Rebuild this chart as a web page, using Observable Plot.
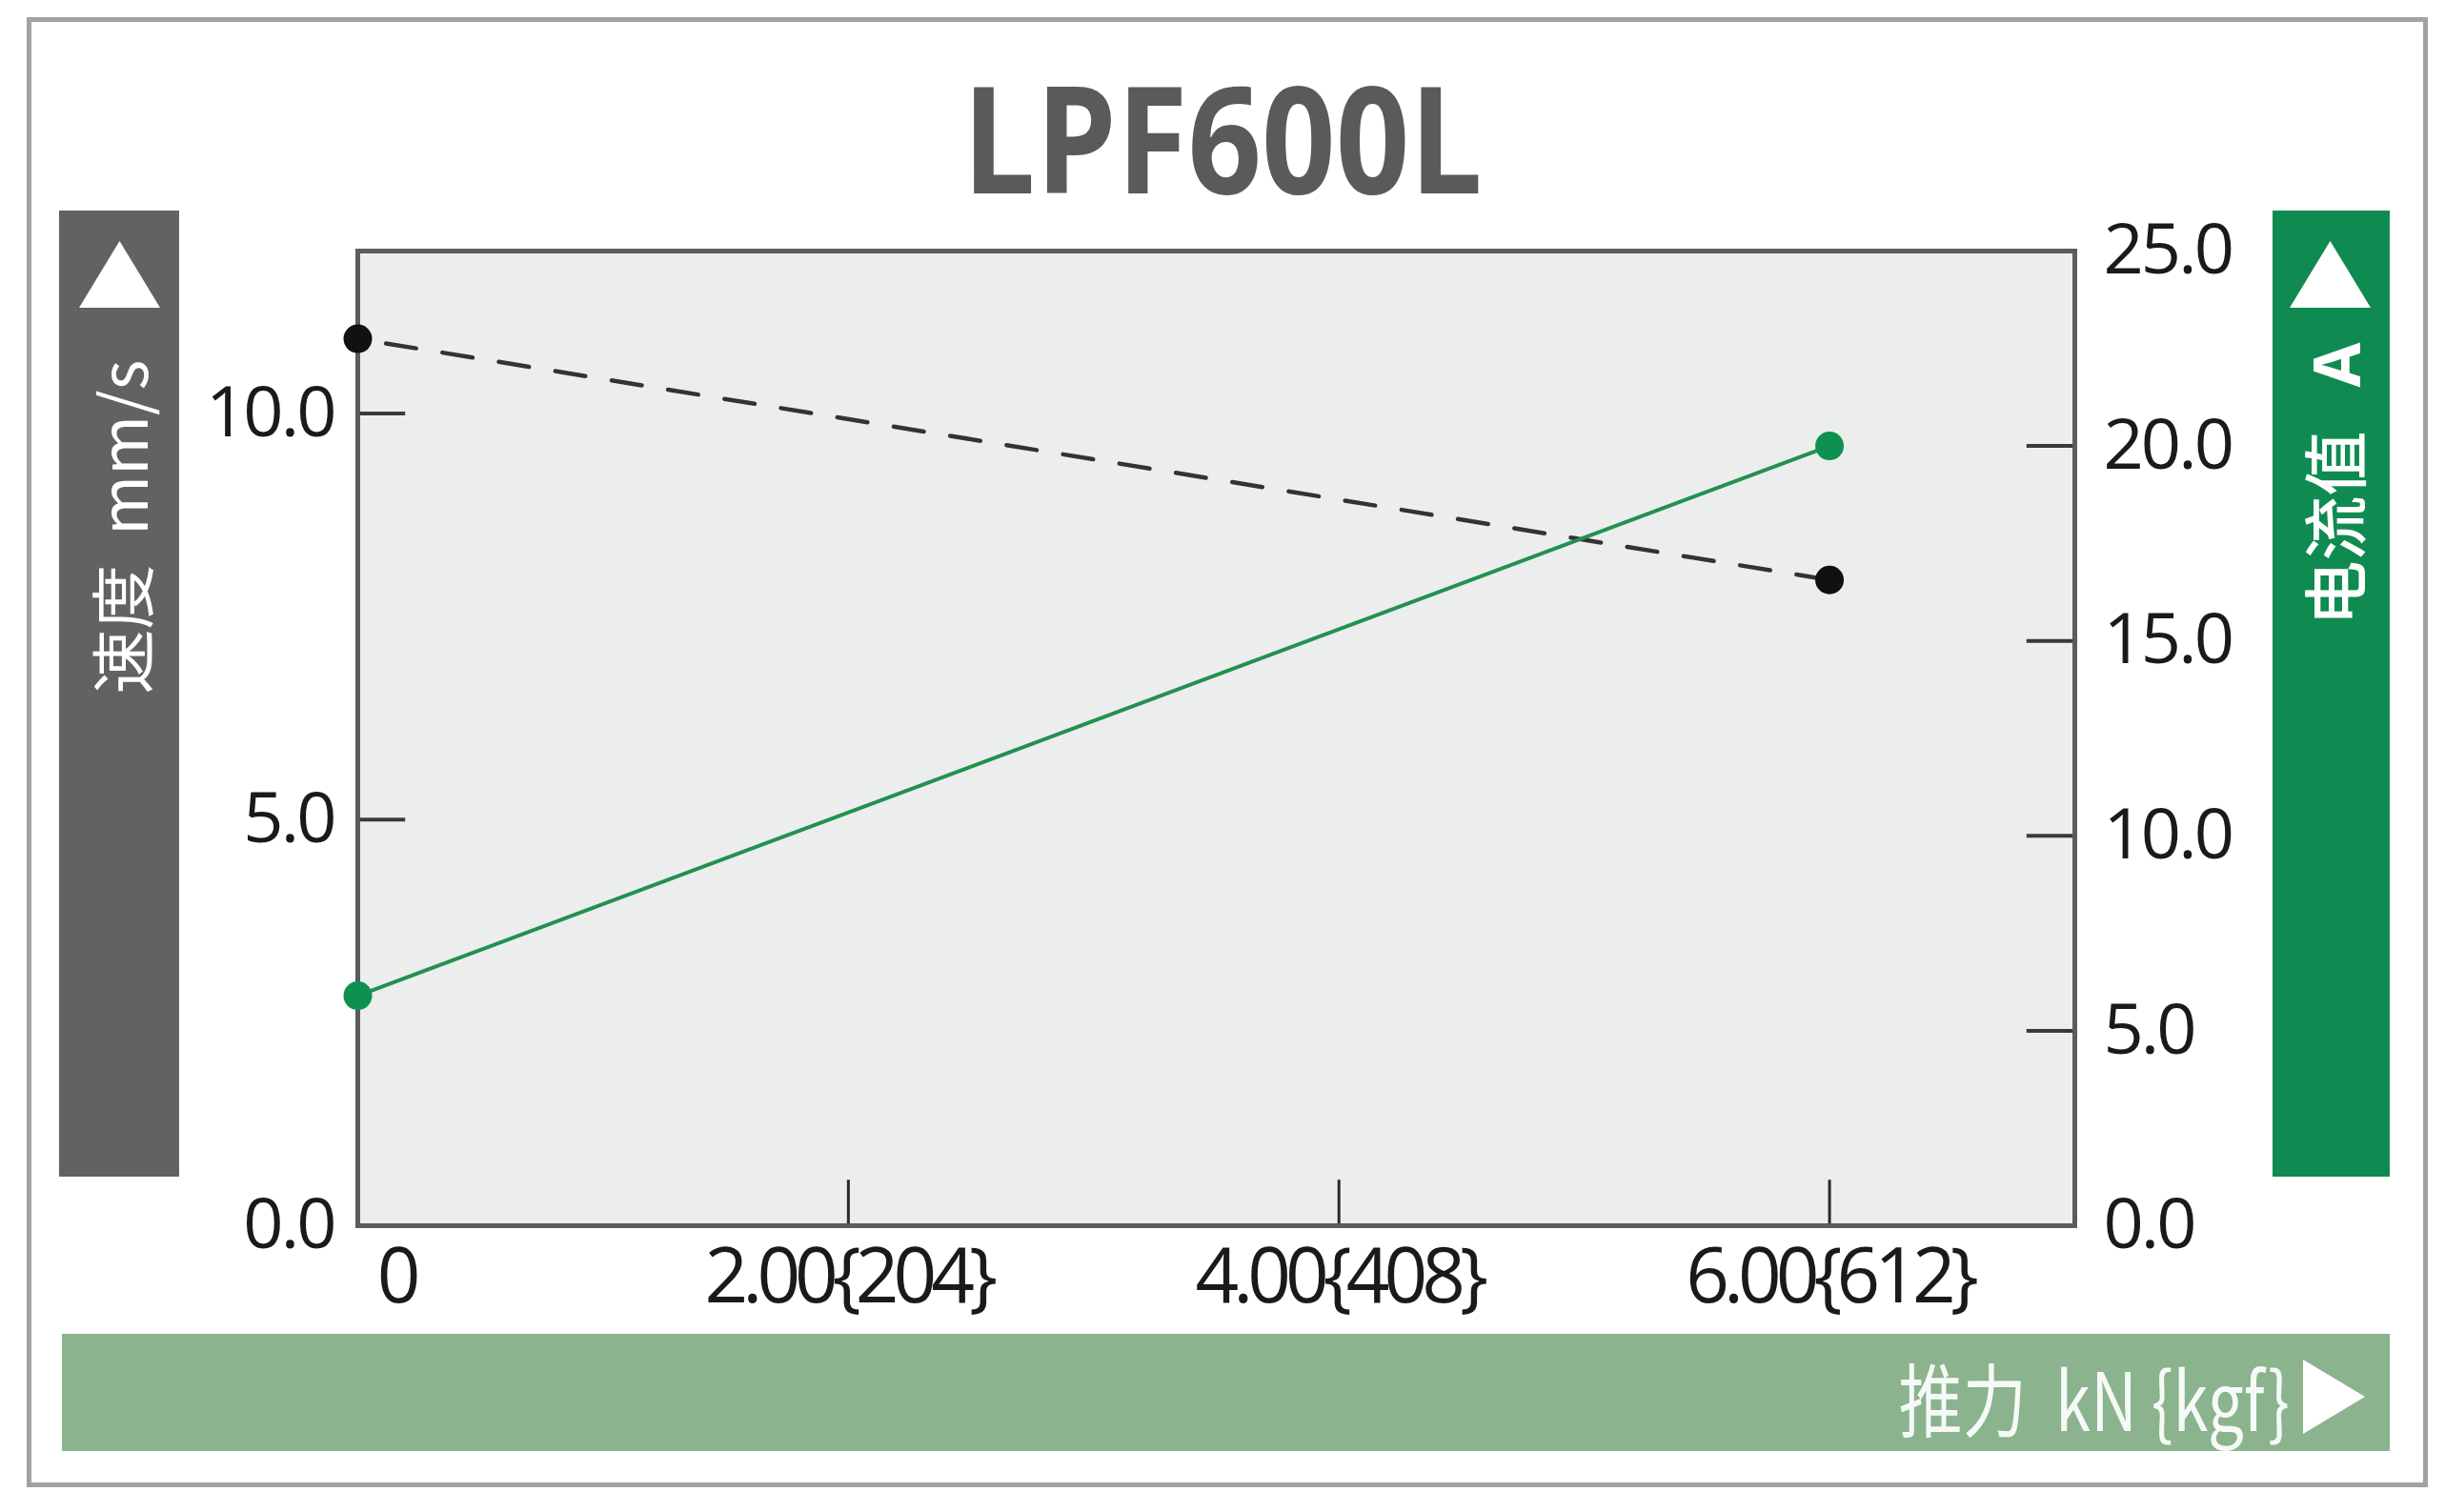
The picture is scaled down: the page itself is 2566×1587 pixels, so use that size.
<!DOCTYPE html>
<html><head><meta charset="utf-8">
<script src="https://cdn.jsdelivr.net/npm/d3@7"></script>
<script src="https://cdn.jsdelivr.net/npm/@observablehq/plot@0.6"></script>
<style>
html,body{margin:0;padding:0;background:#fff;}
#wrap{position:relative;width:2566px;height:1587px;overflow:hidden;font-family:"Open Sans","Noto Sans CJK SC",sans-serif;}
.abs{position:absolute;}
#border{left:28px;top:18px;width:2520px;height:1543px;border:5px solid #a2a2a2;box-sizing:border-box;}
#title{left:1283px;top:143px;transform:translate(-50%,-50%) scaleX(0.87);font-weight:700;font-size:156px;color:#5a5a5a;white-space:nowrap;line-height:1;}
#lband{left:62px;top:221px;width:126px;height:1014px;background:#626262;}
#rband{left:2385px;top:221px;width:123px;height:1014px;background:#0f8b51;}
#bband{left:65px;top:1400px;width:2443px;height:123px;background:#8ab38e;}
.triup{width:85px;height:70px;background:#fff;clip-path:polygon(50% 0,100% 100%,0 100%);}
.trir{width:65px;height:78px;background:#fff;clip-path:polygon(0 0,100% 50%,0 100%);}
.vtext{transform:translate(-50%,-50%) rotate(-90deg);white-space:pre;line-height:1;color:#fff;}
#ltext{left:126px;top:553px;font-size:68px;font-family:"Noto Sans CJK JP","Noto Sans",sans-serif;}
#rtext{left:2449px;top:508px;font-size:68px;font-weight:500;font-family:"Noto Sans CJK SC","Noto Sans",sans-serif;}
#rtext b{font-weight:700;font-family:"Noto Sans",sans-serif;}
#btext{right:163px;top:1466px;transform:translateY(-50%) scaleX(0.8);transform-origin:right center;font-size:84px;color:#f6faf6;white-space:pre;line-height:1;font-family:"Noto Sans CJK SC","Noto Sans",sans-serif;}
#chart{left:0;top:0;}
#chart svg text{letter-spacing:-0.04em;}
#chart g[aria-label="x-axis tick label"] text{letter-spacing:-0.075em;}
</style>
</head><body>
<div id="wrap">
  <div id="border" class="abs"></div>
  <div id="title" class="abs">LPF600L</div>
  <div id="lband" class="abs"></div>
  <div class="abs triup" style="left:83px;top:253px;"></div>
  <div id="ltext" class="abs vtext">速度  mm/s</div>
  <div id="rband" class="abs"></div>
  <div class="abs triup" style="left:2403px;top:253px;"></div>
  <div id="rtext" class="abs vtext">电流值   <b>A</b></div>
  <div id="bband" class="abs"></div>
  <div id="btext" class="abs">推力  kN {kgf}</div>
  <div class="abs trir" style="left:2417px;top:1427px;"></div>
  <div id="chart" class="abs"></div>
</div>
<script>
// ---- data ----
const forceKN = [0, 6];
const speedMMs = [10.92, 7.95];
const currentA = [5.9, 20.0];
const speedTicks = [0, 5, 10];
const currentTicks = [0, 5, 10, 15, 20, 25];
const forceTicks = [0, 2, 4, 6];
const forceTickLabels = ["0", "2.00{204}", "4.00{408}", "6.00{612}"];
const speedMax = 12;
const currentMax = 25;
const forceMax = 7;

const K = speedMax / currentMax; // map current (A) onto the speed y scale
const rows = forceKN.map((f, i) => ({force: f, speed: speedMMs[i], current: currentA[i]}));
const fmtForce = d => forceTickLabels[forceTicks.indexOf(d)];

const chart = Plot.plot({
  width: 2566,
  height: 1587,
  marginTop: 263,
  marginRight: 389,
  marginBottom: 301,
  marginLeft: 375,
  style: {background: "transparent", fontFamily: '"Open Sans", sans-serif', color: "#1a1a1a", overflow: "visible"},
  x: {domain: [0, forceMax], axis: null, label: null},
  y: {domain: [0, speedMax], axis: null, label: null},
  marks: [
    Plot.frame({fill: "#eceeed", stroke: "none"}),
    Plot.ruleY(speedTicks.filter(d => d > 0), {x1: 0, x2: 0.195, stroke: "#3a3a3a", strokeWidth: 4}),
    Plot.ruleY(currentTicks.filter(d => d > 0 && d < currentMax), {y: d => d * K, x1: forceMax - 0.195, x2: forceMax, stroke: "#3a3a3a", strokeWidth: 4}),
    Plot.ruleX(forceTicks.filter(d => d > 0), {y1: 0, y2: 0.56, stroke: "#2a2a2a", strokeWidth: 3}),
    Plot.line(rows, {x: "force", y: "speed", stroke: "#333", strokeWidth: 4.5, strokeDasharray: "32,28", strokeDashoffset: -30}),
    Plot.line(rows, {x: "force", y: d => d.current * K, stroke: "#22914f", strokeWidth: 4}),
    Plot.frame({stroke: "#5c5c5c", strokeWidth: 5}),
    Plot.dot(rows, {x: "force", y: "speed", r: 15, fill: "#111", stroke: "none"}),
    Plot.dot(rows, {x: "force", y: d => d.current * K, r: 15, fill: "#0e9150", stroke: "none"}),
    Plot.axisY(speedTicks, {anchor: "left", label: null, tickSize: 0, tickPadding: 25, fontSize: 74, fill: "#1a1a1a", tickFormat: d => d.toFixed(1)}),
    Plot.axisY(currentTicks.map(d => d * K), {anchor: "right", label: null, tickSize: 0, tickPadding: 30, fontSize: 74, fill: "#1a1a1a", tickFormat: d => (d / K).toFixed(1)}),
    Plot.axisX(forceTicks.filter(d => d > 0), {anchor: "bottom", label: null, tickSize: 0, tickPadding: 24, fontSize: 80, fill: "#1a1a1a", tickFormat: fmtForce}),
    Plot.axisX([forceTicks[0]], {anchor: "bottom", label: null, tickSize: 0, tickPadding: 24, dx: 40, fontSize: 80, fill: "#1a1a1a", tickFormat: fmtForce})
  ]
});
document.getElementById("chart").appendChild(chart);
</script>
</body></html>
